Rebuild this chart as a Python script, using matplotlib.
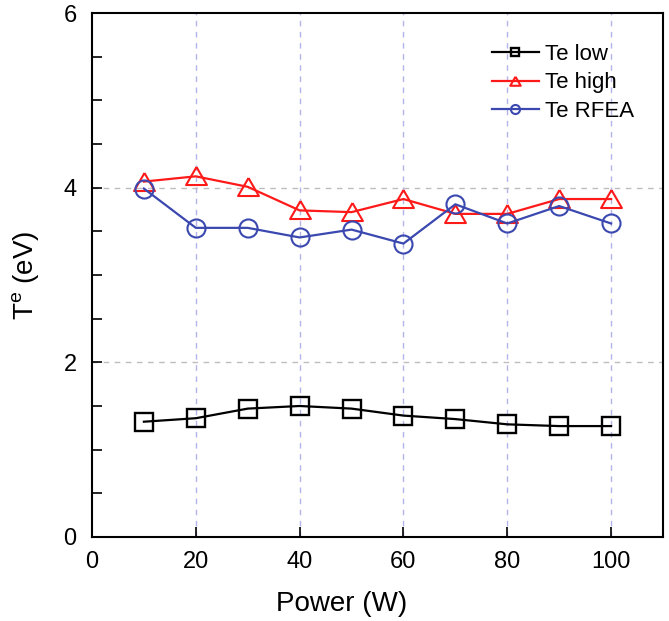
import matplotlib
matplotlib.use("Agg")
import matplotlib.pyplot as plt
from matplotlib.ticker import MultipleLocator

plt.rcParams['font.family'] = ['Liberation Sans', 'DejaVu Sans']
plt.rcParams['mathtext.fontset'] = 'custom'
plt.rcParams['mathtext.rm'] = 'Liberation Sans'

power = [10, 20, 30, 40, 50, 60, 70, 80, 90, 100]
te_low = [1.32, 1.36, 1.47, 1.50, 1.47, 1.39, 1.35, 1.29, 1.27, 1.27]
te_high = [4.07, 4.13, 4.01, 3.74, 3.72, 3.87, 3.70, 3.70, 3.87, 3.87]
te_rfea = [3.99, 3.54, 3.54, 3.43, 3.52, 3.36, 3.81, 3.59, 3.79, 3.59]

x_ticks = [0, 20, 40, 60, 80, 100]
y_ticks = [0, 2, 4, 6]

fig = plt.figure(figsize=(6.69, 6.21), dpi=100)
ax = fig.add_axes([0.1375, 0.1353, 0.8535, 0.8437])

tri = [(0, 1), (-1.1, -0.9), (1.1, -0.9), (0, 1)]

ax.plot(power, te_low, color='black', lw=1.6, marker='s', ms=12.5,
        mfc='none', mec='black', mew=1.7, label='Te low', zorder=3)
ax.plot(power, te_high, color='#ff1a1a', lw=1.6, marker=tri, ms=15,
        mfc='none', mec='#ff1a1a', mew=1.5, label='Te high', zorder=3)
ax.plot(power, te_rfea, color='#3a48b0', lw=1.6, marker='o', ms=13,
        mfc='none', mec='#3a48b0', mew=1.5, label='Te RFEA', zorder=3)

ax.set_xlim(0, 110)
ax.set_ylim(0, 6)
ax.set_xticks(x_ticks)
ax.set_yticks(y_ticks)
ax.yaxis.set_minor_locator(MultipleLocator(0.5))

for v in [20, 40, 60, 80, 100]:
    ax.axvline(v, color='#b4b4ec', lw=1.0, ls=(0, (4, 4)), zorder=1)
for v in [2, 4]:
    ax.axhline(v, color='#bdbdbd', lw=1.0, ls=(0, (4, 4)), zorder=1)

ax.tick_params(axis='both', which='major', direction='in', length=7, width=1.2,
               labelsize=17, colors='black')
ax.tick_params(axis='y', which='minor', direction='in', length=7, width=1.2)
ax.tick_params(axis='x', which='major', pad=10)
ax.tick_params(axis='y', which='major', pad=11)
ax.tick_params(top=False, right=False)
for s in ax.spines.values():
    s.set_linewidth(1.5)

ax.set_xlabel('Power (W)', fontsize=20)
ax.xaxis.set_label_coords(0.438, -0.103)
ax.set_ylabel(r'T$^\mathregular{e}$ (eV)', fontsize=20)
ax.yaxis.set_label_coords(-0.088, 0.5)

leg = ax.legend(loc='upper right', bbox_to_anchor=(0.985, 0.98), frameon=False,
                fontsize=16, handlelength=2.1, handletextpad=0.3,
                labelspacing=0.35, markerscale=0.5)

fig.savefig('out.png', dpi=100)
